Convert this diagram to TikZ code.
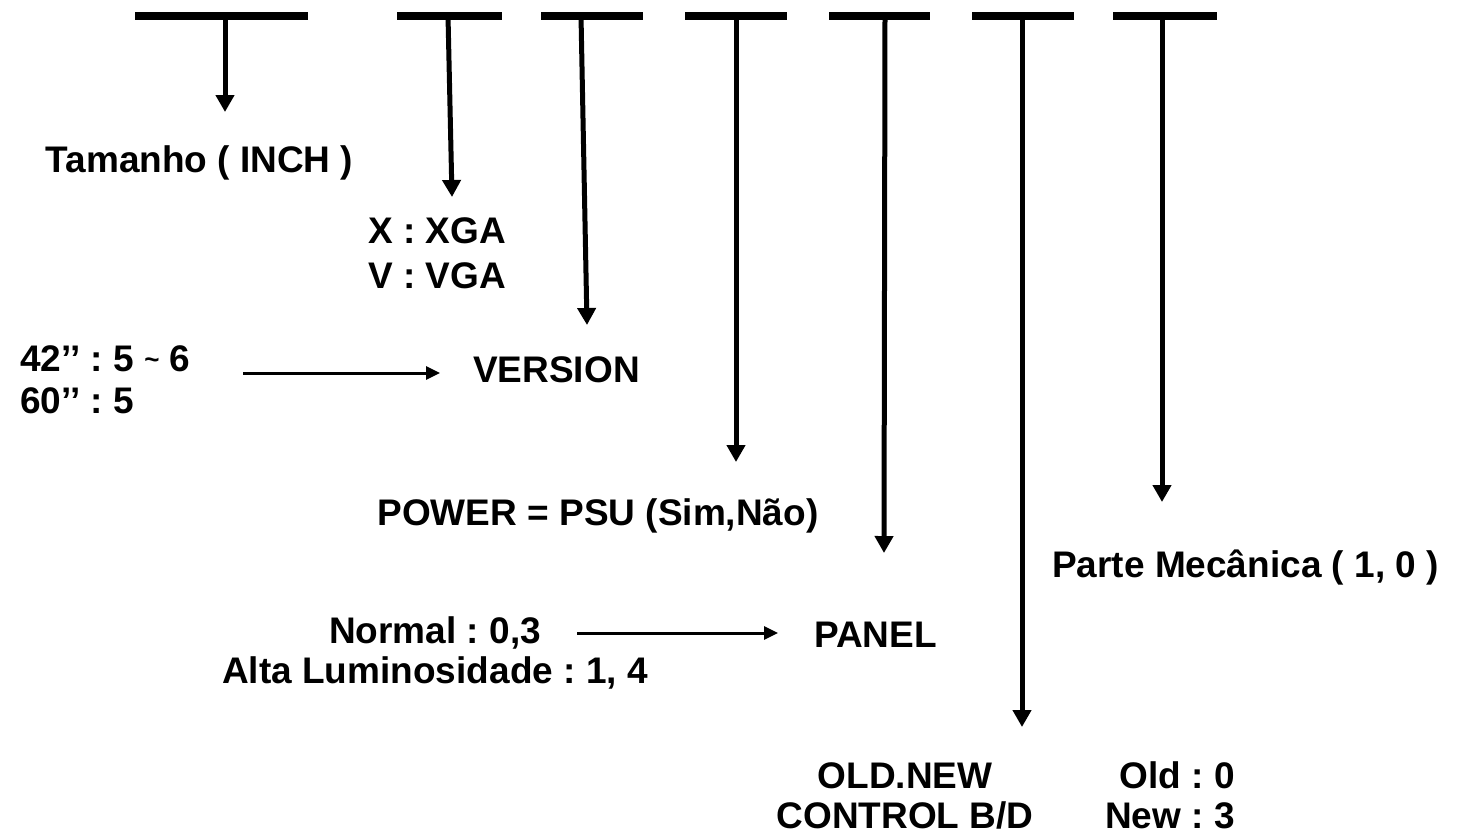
\documentclass[tikz,border=0pt]{standalone}
\usepackage{fontspec}
\setmainfont{Liberation Sans}
\usetikzlibrary{arrows.meta}
\frenchspacing
\begin{document}
\begin{tikzpicture}[x=1pt,y=-1pt,
  lbl/.style={inner sep=0pt, font=\fontsize{37}{43}\selectfont\bfseries\frenchspacing},
  bar/.style={fill=black, inner sep=0pt, minimum height=8pt},
  down/.style={line width=5pt, -{Triangle[width=18pt,length=17pt]}},
  side/.style={line width=3pt, -{Triangle[width=13pt,length=14pt]}}]
\useasboundingbox (0,0) rectangle (1461,836);
% top bars
\node[bar, minimum width=173pt] (b1) at (221.5,15.5) {};
\node[bar, minimum width=105pt] (b2) at (449.5,15.5) {};
\node[bar, minimum width=102pt] (b3) at (592,15.5) {};
\node[bar, minimum width=102pt] (b4) at (736,15.5) {};
\node[bar, minimum width=101pt] (b5) at (879.5,15.5) {};
\node[bar, minimum width=102pt] (b6) at (1023,15.5) {};
\node[bar, minimum width=104pt] (b7) at (1165,15.5) {};
% arrow start / tip coordinates
\coordinate (s1) at (225,0);  \coordinate (t1) at (225,112);
\coordinate (s2) at (448,0);  \coordinate (t2) at (452,197);
\coordinate (s3) at (581,0);  \coordinate (t3) at (587,325);
\coordinate (s4) at (736,0);  \coordinate (t4) at (736,462);
\coordinate (s5) at (885,0);  \coordinate (t5) at (884,553);
\coordinate (s6) at (1022,0); \coordinate (t6) at (1022,727);
\coordinate (s7) at (1162,0); \coordinate (t7) at (1162,502);
\draw[down] (b1.center -| s1) -- (t1);
\draw[down] (b2.center -| s2) -- (t2);
\draw[down] (b3.center -| s3) -- (t3);
\draw[down] (b4.center -| s4) -- (t4);
\draw[down] (b5.center -| s5) -- (t5);
\draw[down] (b6.center -| s6) -- (t6);
\draw[down] (b7.center -| s7) -- (t7);
% labels
\node[lbl, anchor=base] (tam) at (199.5,172) {Tamanho ( INCH )};
\node[lbl, anchor=base west] (xga) at (368,243) {X : XGA};
\node[lbl, anchor=base west] (vga) at (368,288) {V : VGA};
\node[lbl, anchor=base west] (v42) at (20,371) {42’’ : 5 \raisebox{3pt}{\fontsize{26}{26}\selectfont\char"007E} 6};
\node[lbl, anchor=base west] (v60) at (20,413) {60’’ : 5};
\node[lbl, anchor=base west] (ver) at (473,382) {VERSION};
\node[lbl, anchor=base] (pow) at (598,525) {POWER = PSU (Sim,Não)};
\node[lbl, anchor=base west] (mec) at (1052,577) {Parte Mecânica ( 1, 0 )};
\node[lbl, anchor=base] (nor) at (435,643) {Normal : 0,3};
\node[lbl, anchor=base] (alt) at (435,683) {Alta Luminosidade : 1, 4};
\node[lbl, anchor=base west] (pan) at (814,647) {PANEL};
\node[lbl, anchor=base] (old) at (905,788) {OLD.NEW};
\node[lbl, anchor=base] (ctl) at (905,828) {CONTROL B/D};
\node[lbl, anchor=base east] (o0) at (1235,788) {Old : 0};
\node[lbl, anchor=base east] (n3) at (1235,828) {New : 3};
% side arrows
\coordinate (h1s) at (243,373); \coordinate (h1e) at (440,373);
\coordinate (h2s) at (577,633); \coordinate (h2e) at (778,633);
\draw[side] (h1s) -- (h1e);
\draw[side] (h2s) -- (h2e);
\end{tikzpicture}
\end{document}
